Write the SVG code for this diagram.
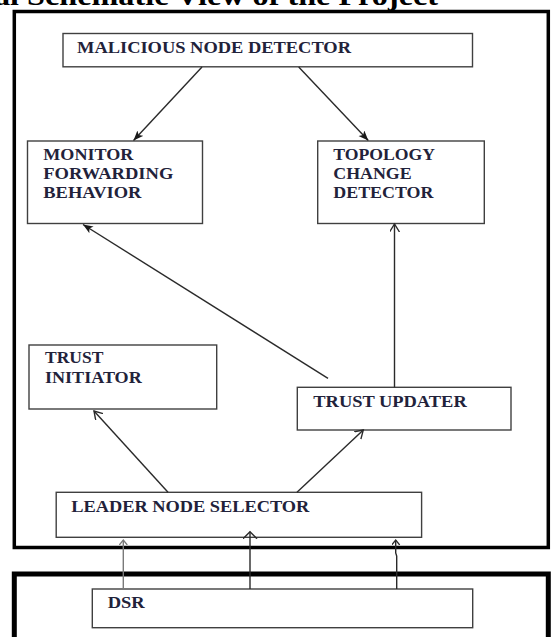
<svg xmlns="http://www.w3.org/2000/svg" width="551" height="637" viewBox="0 0 551 637">
<defs>
<style>
.box{fill:#ffffff;stroke:#404040;stroke-width:1.4}
.frame{fill:none;stroke:#000000}
.lbl{font-family:"Liberation Serif","Times New Roman",serif;font-weight:bold;font-size:16px;fill:#22223a}
.title{font-family:"Liberation Serif","Times New Roman",serif;font-weight:bold;font-size:28px;fill:#000000}
.con{fill:none;stroke:#2a2a2a;stroke-width:1.4}
</style>
<marker id="filled" markerUnits="userSpaceOnUse" markerWidth="12" markerHeight="10" refX="10" refY="4" orient="auto">
<path d="M0,0 L10,4 L0,8 L2.5,4 z" fill="#1a1a1a"/>
</marker>
<marker id="open" markerUnits="userSpaceOnUse" markerWidth="12" markerHeight="12" refX="8" refY="5" orient="auto">
<path d="M0,0 L8,5 L0,10" fill="none" stroke="#2a2a2a" stroke-width="1.4"/>
</marker>
<marker id="open-lg" markerUnits="userSpaceOnUse" markerWidth="12" markerHeight="16" refX="7" refY="7" orient="auto">
<path d="M0,0 L7,7 L0,14" fill="none" stroke="#2a2a2a" stroke-width="1.5"/>
</marker>
<marker id="open-sm" markerUnits="userSpaceOnUse" markerWidth="10" markerHeight="10" refX="5" refY="4" orient="auto">
<path d="M0,0 L5,4 L0,8" fill="none" stroke="#2a2a2a" stroke-width="1.3"/>
</marker>
<marker id="open-sm-gray" markerUnits="userSpaceOnUse" markerWidth="10" markerHeight="10" refX="5" refY="4" orient="auto">
<path d="M0,0 L5,4 L0,8" fill="none" stroke="#7a7a7a" stroke-width="1.3"/>
</marker>
</defs>
<rect width="551" height="637" fill="#ffffff"/>

<text class="title" x="-6" y="4.5" textLength="444" lengthAdjust="spacingAndGlyphs">al Schematic View of the Project</text>

<g id="container-main">
<rect class="frame" x="14.3" y="11.5" width="534" height="536" stroke-width="3.5"/>
</g>
<g id="container-dsr">
<rect class="frame" x="14.3" y="574" width="534" height="80" stroke-width="5"/>
</g>

<g id="malicious-node-detector">
<rect class="box" x="63" y="33.5" width="409.5" height="33.3"/>
<text class="lbl" x="77" y="52.5" textLength="274" lengthAdjust="spacingAndGlyphs">MALICIOUS NODE DETECTOR</text>
</g>

<g id="monitor-forwarding-behavior">
<rect class="box" x="27.5" y="141" width="175" height="82.5"/>
<text class="lbl" x="43.3" y="160" textLength="90" lengthAdjust="spacingAndGlyphs">MONITOR</text>
<text class="lbl" x="43.3" y="178.8" textLength="130" lengthAdjust="spacingAndGlyphs">FORWARDING</text>
<text class="lbl" x="43.3" y="197.7" textLength="98" lengthAdjust="spacingAndGlyphs">BEHAVIOR</text>
</g>

<g id="topology-change-detector">
<rect class="box" x="317.7" y="141" width="166.6" height="82.5"/>
<text class="lbl" x="333.3" y="160" textLength="101.7" lengthAdjust="spacingAndGlyphs">TOPOLOGY</text>
<text class="lbl" x="333.3" y="178.8" textLength="78.3" lengthAdjust="spacingAndGlyphs">CHANGE</text>
<text class="lbl" x="333.3" y="197.7" textLength="100" lengthAdjust="spacingAndGlyphs">DETECTOR</text>
</g>

<g id="trust-initiator">
<rect class="box" x="29" y="345" width="187.7" height="64"/>
<text class="lbl" x="45" y="363.3" textLength="58.3" lengthAdjust="spacingAndGlyphs">TRUST</text>
<text class="lbl" x="45" y="382.5" textLength="96.7" lengthAdjust="spacingAndGlyphs">INITIATOR</text>
</g>

<g id="trust-updater">
<rect class="box" x="297.3" y="387.3" width="213.7" height="42.7"/>
<text class="lbl" x="313.3" y="406.7" textLength="153.4" lengthAdjust="spacingAndGlyphs">TRUST UPDATER</text>
</g>

<g id="leader-node-selector">
<rect class="box" x="56.2" y="492.3" width="365.4" height="45"/>
<text class="lbl" x="71.3" y="511.7" textLength="238" lengthAdjust="spacingAndGlyphs">LEADER NODE SELECTOR</text>
</g>

<g id="dsr">
<rect class="box" x="92.3" y="589" width="380.4" height="38.7"/>
<text class="lbl" x="107.7" y="608.3" textLength="37" lengthAdjust="spacingAndGlyphs">DSR</text>
</g>

<g id="connectors">
<line class="con" x1="202" y1="67" x2="133.5" y2="140.5" marker-end="url(#filled)"/>
<line class="con" x1="298.7" y1="67" x2="368.3" y2="140.5" marker-end="url(#filled)"/>
<line class="con" x1="328" y1="378.3" x2="83" y2="224.5" marker-end="url(#filled)"/>
<line class="con" x1="394.5" y1="387.3" x2="394.5" y2="224" marker-end="url(#open)"/>
<line class="con" x1="168" y1="492.3" x2="94" y2="411" marker-end="url(#open)"/>
<line class="con" x1="297" y1="492.3" x2="363.3" y2="430" marker-end="url(#open)"/>
<line x1="123.3" y1="589" x2="123.3" y2="540" fill="none" stroke="#7a7a7a" stroke-width="1.4" marker-end="url(#open-sm-gray)"/>
<line class="con" x1="250" y1="589" x2="250" y2="531.7" marker-end="url(#open-lg)"/>
<polyline class="con" points="396.7,589 396.7,556 395.7,553 395.7,540" marker-end="url(#open-sm)"/>
</g>
</svg>
